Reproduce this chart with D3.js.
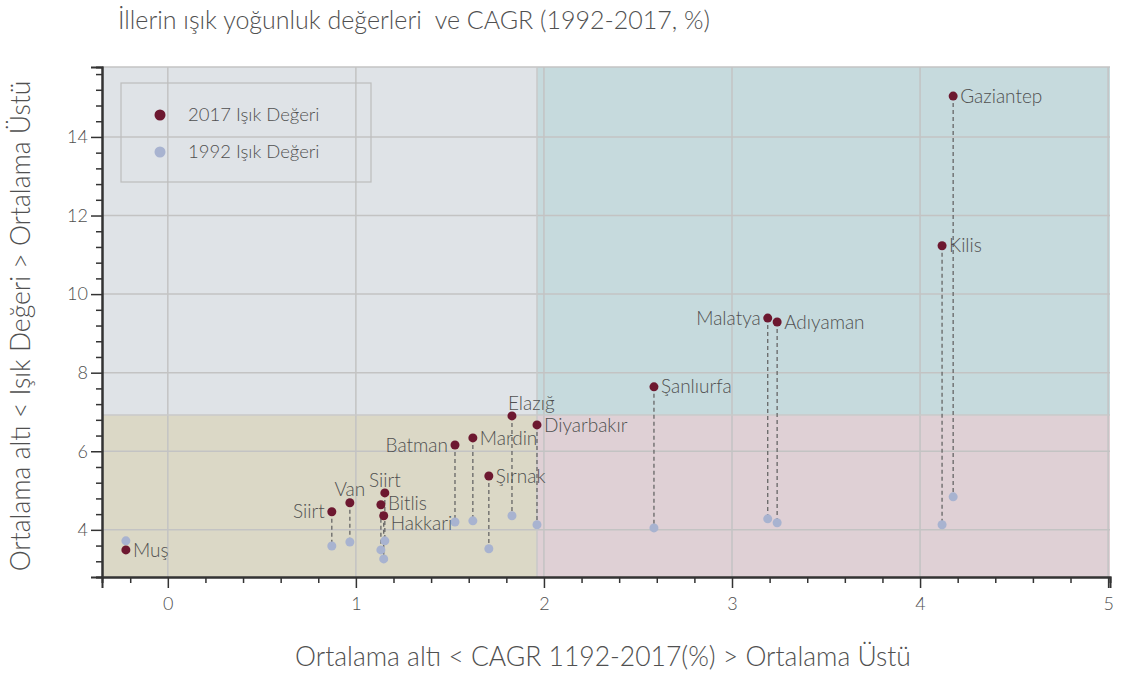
<!DOCTYPE html>
<html>
<head>
<meta charset="utf-8">
<script src="https://cdn.jsdelivr.net/npm/d3@7"></script>
<style>
  body { margin: 0; background: #fff; }
  text { font-family: Lato, "Open Sans", sans-serif; font-weight: 300; fill: #505050; white-space: pre; }
</style>
</head>
<body>
<svg width="1122" height="673"></svg>
<script>
// data
var provinces = ["Gaziantep", "Kilis", "Malatya", "Adıyaman", "Şanlıurfa", "Elazığ", "Diyarbakır",
  "Mardin", "Batman", "Şırnak", "Siirt", "Van", "Siirt", "Bitlis", "Hakkari", "Muş"];
var cagr = [4.176, 4.117, 3.19, 3.24, 2.585, 1.83, 1.963, 1.622, 1.527, 1.707, 0.872, 0.968, 1.154, 1.133, 1.148, -0.223];
var light2017 = [15.04, 11.23, 9.39, 9.29, 7.64, 6.90, 6.67, 6.34, 6.16, 5.37, 4.46, 4.69, 4.94, 4.64, 4.36, 3.49];
var light1992 = [4.84, 4.13, 4.28, 4.18, 4.05, 4.36, 4.13, 4.23, 4.20, 3.52, 3.59, 3.69, 3.72, 3.49, 3.26, 3.72];
var meanCagr = 1.963, meanLight = 6.92;
var xTicks = [0, 1, 2, 3, 4, 5];
var yTicks = [4, 6, 8, 10, 12, 14];
var seriesNames = ["2017 Işık Değeri", "1992 Işık Değeri"];
// where the label sits relative to the 2017 dot
var labelSide = ["right", "right", "left", "right", "right", "above-start", "right",
  "right", "left", "right", "left", "above", "above", "right-high", "right-low", "right"];

var c2017 = "#6d1830", c1992 = "#a8b3d0";

var svg = d3.select("svg");
var x = d3.scaleLinear().domain([-0.35, 5.01]).range([102, 1110]);
var y = d3.scaleLinear().domain([2.8, 15.78]).range([577, 67]);

// quadrants
var quads = [
  [x.domain()[0], meanCagr, meanLight, y.domain()[1], "#dfe3e7"],
  [meanCagr, x.domain()[1], meanLight, y.domain()[1], "#c6dadd"],
  [x.domain()[0], meanCagr, y.domain()[0], meanLight, "#dbd8c6"],
  [meanCagr, x.domain()[1], y.domain()[0], meanLight, "#dfd0d5"]
];
svg.selectAll("rect.q").data(quads).enter().append("rect")
  .attr("x", d => x(d[0])).attr("width", d => x(d[1]) - x(d[0]))
  .attr("y", d => y(d[3])).attr("height", d => y(d[2]) - y(d[3]))
  .attr("fill", d => d[4]);

// grid
var grid = svg.append("g").attr("stroke", "#c3c3c3").attr("stroke-width", 1.5);
xTicks.forEach(function (t) {
  grid.append("line").attr("x1", x(t)).attr("x2", x(t)).attr("y1", y.range()[1]).attr("y2", y.range()[0]);
});
yTicks.forEach(function (t) {
  grid.append("line").attr("x1", x.range()[0]).attr("x2", x.range()[1]).attr("y1", y(t)).attr("y2", y(t));
});
grid.append("line").attr("x1", x.range()[0]).attr("x2", x.range()[1]).attr("y1", y.range()[1]).attr("y2", y.range()[1]);
grid.append("line").attr("x1", x(meanCagr)).attr("x2", x(meanCagr)).attr("y1", y.range()[1]).attr("y2", y.range()[0]).attr("stroke", "#c9c9c9");
grid.append("line").attr("x1", x.range()[0]).attr("x2", x.range()[1]).attr("y1", y(meanLight)).attr("y2", y(meanLight)).attr("stroke", "#c9c9c9");

// axes: minor + major ticks
var xMinor = d3.range(-0.2, 5.01, 0.2).map(v => +v.toFixed(1)).filter(v => xTicks.indexOf(v) < 0);
var yMinor = d3.range(2.8, 15.7, 0.4).map(v => +v.toFixed(1)).filter(v => yTicks.indexOf(v) < 0);

var xAxisMinor = svg.append("g").attr("transform", "translate(0,577)")
  .call(d3.axisBottom(x).tickValues(xMinor).tickSize(6).tickFormat(""));
var xAxis = svg.append("g").attr("transform", "translate(0,577)")
  .call(d3.axisBottom(x).tickValues(xTicks).tickSize(11).tickPadding(9).tickFormat(d3.format("d")));
var yAxisMinor = svg.append("g").attr("transform", "translate(102,0)")
  .call(d3.axisLeft(y).tickValues(yMinor).tickSize(6).tickFormat(""));
var yAxis = svg.append("g").attr("transform", "translate(102,0)")
  .call(d3.axisLeft(y).tickValues(yTicks).tickSize(11).tickPadding(3).tickFormat(d3.format("d")));
[xAxisMinor, xAxis, yAxisMinor, yAxis].forEach(function (g) {
  g.selectAll("line").attr("stroke", "#333").attr("stroke-width", 1.5);
  g.select(".domain").attr("stroke", "#333").attr("stroke-width", 2);
  g.selectAll("text").style("font-size", "18px").attr("fill", "#505050").attr("font-family", null);
});

// dashed connectors
var idx = d3.range(provinces.length);
svg.append("g").selectAll("line").data(idx).enter().append("line")
  .attr("x1", i => x(cagr[i])).attr("x2", i => x(cagr[i]))
  .attr("y1", i => y(light2017[i])).attr("y2", i => y(light1992[i]))
  .attr("stroke", "#666").attr("stroke-width", 1.3).attr("stroke-dasharray", "4,3");

svg.append("g").selectAll("circle").data(idx).enter().append("circle")
  .attr("cx", i => x(cagr[i])).attr("cy", i => y(light1992[i])).attr("r", 4.5).attr("fill", c1992);
svg.append("g").selectAll("circle").data(idx).enter().append("circle")
  .attr("cx", i => x(cagr[i])).attr("cy", i => y(light2017[i])).attr("r", 4.5).attr("fill", c2017);

// labels
svg.append("g").selectAll("text").data(idx).enter().append("text")
  .style("font-size", "19px")
  .attr("x", function (i) {
    var s = labelSide[i], px = x(cagr[i]);
    if (s.indexOf("right") === 0) return px + 7;
    if (s === "left") return px - 7;
    if (s === "above-start") return px - 4;
    return px;
  })
  .attr("y", function (i) {
    var s = labelSide[i], py = y(light2017[i]);
    if (s.indexOf("above") === 0) return py - 13;
    if (s === "right-low") return py + 8;
    if (s === "right-high") return py - 1;
    return py;
  })
  .attr("dy", "0.35em")
  .attr("text-anchor", function (i) {
    var s = labelSide[i];
    return s === "left" ? "end" : (s === "above" ? "middle" : "start");
  })
  .text(i => provinces[i]);

// legend
svg.append("rect").attr("x", 121).attr("y", 83).attr("width", 250).attr("height", 99)
  .attr("fill", "none").attr("stroke", "#bdbdbd").attr("stroke-width", 1.2);
var leg = svg.append("g").selectAll("g").data(seriesNames).enter().append("g")
  .attr("transform", (d, i) => "translate(160," + (115 + i * 37) + ")");
leg.append("circle").attr("r", 5.5).attr("fill", (d, i) => i === 0 ? c2017 : c1992);
leg.append("text").attr("x", 28).attr("dy", "0.35em").style("font-size", "18.5px").text(d => d);

// titles
svg.append("text").attr("x", 118).attr("y", 29).style("font-size", "25px")
  .text("İllerin ışık yoğunluk değerleri  ve CAGR (1992-2017, %)");
svg.append("text").attr("x", 603).attr("y", 666).attr("text-anchor", "middle").style("font-size", "26.5px")
  .text("Ortalama altı < CAGR 1192-2017(%) > Ortalama Üstü");
svg.append("text").attr("transform", "translate(30,326) rotate(-90)").attr("text-anchor", "middle")
  .style("font-size", "26.5px").text("Ortalama altı < Işık Değeri > Ortalama Üstü");
</script>
</body>
</html>
